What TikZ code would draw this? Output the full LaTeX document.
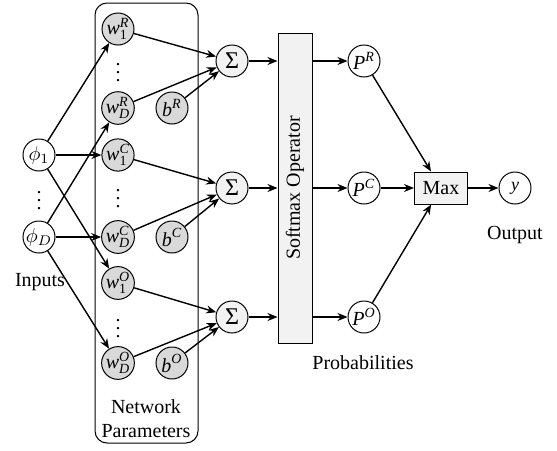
\documentclass[tikz,border=0pt]{standalone}
\usepackage{amsmath}
\usepackage{fontspec}
\setmainfont{Liberation Serif}
\usetikzlibrary{arrows.meta}
\newcommand\mi[1]{\textit{#1}}
\begin{document}
\begin{tikzpicture}[x=0.5pt,y=-0.5pt,
  wnode/.style={circle,draw,line width=0.5pt,fill=gray!30,minimum size=16pt,inner sep=0pt},
  snode/.style={circle,draw,line width=0.5pt,fill=gray!10,minimum size=16pt,inner sep=0pt},
  pnode/.style={circle,draw,line width=0.5pt,fill=white,minimum size=16pt,inner sep=0pt},
  arr/.style={-{Stealth[length=5pt,width=4pt]},line width=0.7pt},
  lbl/.style={inner sep=0pt}]
\useasboundingbox (0,0) rectangle (557,450);
% parameter box
\draw[rounded corners=6pt,line width=0.5pt] (95,3) rectangle (198,443);
% inputs
\node[pnode] (p1) at (39,155) {$\phi_1$};
\node[pnode] (pD) at (39,237) {$\phi_D$};
\node[lbl] (idots) at (39,195) {$\vdots$};
\node[lbl] (inputs) at (40,282) {Inputs};
% weights
\node[wnode] (w1R) at (118,29) {$\mi{w}^{\mi{R}}_{\textrm{1}}$};
\node[wnode] (wDR) at (118,108) {$\mi{w}^{\mi{R}}_{\mi{D}}$};
\node[wnode] (w1C) at (118,155) {$\mi{w}^{\mi{C}}_{\textrm{1}}$};
\node[wnode] (wDC) at (118,237) {$\mi{w}^{\mi{C}}_{\mi{D}}$};
\node[wnode] (w1O) at (118,283) {$\mi{w}^{\mi{O}}_{\textrm{1}}$};
\node[wnode] (wDO) at (118,363) {$\mi{w}^{\mi{O}}_{\mi{D}}$};
\node[lbl] (dR) at (118,67) {$\vdots$};
\node[lbl] (dC) at (118,193) {$\vdots$};
\node[lbl] (dO) at (118,323) {$\vdots$};
\node[wnode] (bR) at (172,108) {$\mi{b}^{\mi{R}}$};
\node[wnode] (bC) at (172,237) {$\mi{b}^{\mi{C}}$};
\node[wnode] (bO) at (172,363) {$\mi{b}^{\mi{O}}$};
\node[lbl,align=center] (np) at (146,419) {Network\\Parameters};
% sums
\node[snode] (sR) at (232,61) {\large Σ};
\node[snode] (sC) at (232,188) {\large Σ};
\node[snode] (sO) at (232,317) {\large Σ};
% softmax
\node[draw,line width=0.5pt,fill=gray!10,minimum width=17pt,minimum height=155pt,inner sep=0pt] (soft) at (295,188) {\rotatebox{90}{Softmax Operator}};
% probabilities
\node[pnode] (PR) at (364,61) {$\mi{P}^{\mi{R}}$};
\node[pnode] (PC) at (364,188) {$\mi{P}^{\mi{C}}$};
\node[pnode] (PO) at (364,317) {$\mi{P}^{\mi{O}}$};
\node[lbl] (prob) at (363,363) {Probabilities};
% max and output
\node[draw,line width=0.5pt,fill=gray!10,minimum width=26.5pt,minimum height=16pt,inner sep=0pt] (max) at (441,188) {Max};
\node[pnode] (y) at (515,188) {\small\mi{y}};
\node[lbl] (out) at (515,235) {Output};
% connectors
\draw[arr] (p1) -- (w1R);
\draw[arr] (p1) -- (w1C);
\draw[arr] (p1) -- (w1O);
\draw[arr] (pD) -- (wDR);
\draw[arr] (pD) -- (wDC);
\draw[arr] (pD) -- (wDO);
\draw[arr] (w1R) -- (sR);
\draw[arr] (wDR) -- (sR);
\draw[arr] (bR) -- (sR);
\draw[arr] (w1C) -- (sC);
\draw[arr] (wDC) -- (sC);
\draw[arr] (bC) -- (sC);
\draw[arr] (w1O) -- (sO);
\draw[arr] (wDO) -- (sO);
\draw[arr] (bO) -- (sO);
\draw[arr] (sR) -- (sR -| soft.west);
\draw[arr] (sC) -- (sC -| soft.west);
\draw[arr] (sO) -- (sO -| soft.west);
\draw[arr] (PR -| soft.east) -- (PR);
\draw[arr] (PC -| soft.east) -- (PC);
\draw[arr] (PO -| soft.east) -- (PO);
\draw[arr] (PR) -- (max);
\draw[arr] (PC) -- (max);
\draw[arr] (PO) -- (max);
\draw[arr] (max) -- (y);
\end{tikzpicture}
\end{document}
